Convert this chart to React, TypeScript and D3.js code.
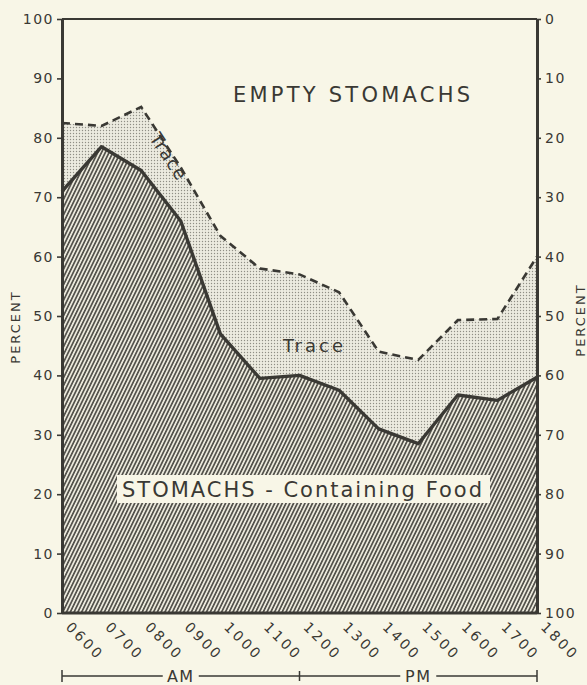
import * as d3 from 'd3'
import { useRef, useEffect } from 'react'

const hours = ['0600', '0700', '0800', '0900', '1000', '1100', '1200', '1300', '1400', '1500', '1600', '1700', '1800']
// percent of stomachs containing food (solid line)
const foodPct = [71, 78.5, 74.5, 66, 47, 39.5, 40, 37.5, 31, 28.5, 36.7, 35.8, 39.7]
// upper edge of the "trace" band (dashed line)
const tracePct = [82.5, 82, 85.2, 75, 63.5, 58, 57, 54, 44, 42.6, 49.3, 49.5, 60]
const leftTicks = [0, 10, 20, 30, 40, 50, 60, 70, 80, 90, 100]

const W = 587
const H = 685
const ink = '#3a3934'
const paper = '#f8f6e7'
const font = '"DejaVu Sans", sans-serif'

export default function App() {
    const svgRef = useRef()

    useEffect(() => {
        document.body.style.margin = '0'
        document.body.style.background = paper

        const svg = d3.select(svgRef.current)
        svg.selectAll('*').remove()

        const margin = { top: 19, right: 50, bottom: 72, left: 62 }
        const x = d3.scalePoint().domain(hours).range([margin.left, W - margin.right])
        const y = d3.scaleLinear().domain([0, 100]).range([H - margin.bottom, margin.top])
        const yR = d3.scaleLinear().domain([100, 0]).range([H - margin.bottom, margin.top])

        const data = hours.map((h, i) => ({ h, food: foodPct[i], trace: tracePct[i] }))

        svg.append('rect').attr('width', W).attr('height', H).attr('fill', paper)

        const defs = svg.append('defs')
        const hatch = defs.append('pattern')
            .attr('id', 'hatch')
            .attr('patternUnits', 'userSpaceOnUse')
            .attr('width', 3.4).attr('height', 10)
            .attr('patternTransform', 'rotate(26)')
        hatch.append('rect').attr('width', 3.4).attr('height', 10).attr('fill', '#ebe9dc')
        hatch.append('line')
            .attr('x1', 1.7).attr('x2', 1.7).attr('y1', 0).attr('y2', 10)
            .attr('stroke', ink).attr('stroke-width', 1.45)

        const dots = defs.append('pattern')
            .attr('id', 'dots')
            .attr('patternUnits', 'userSpaceOnUse')
            .attr('width', 3).attr('height', 3)
        dots.append('rect').attr('width', 3).attr('height', 3).attr('fill', '#ecebe0')
        dots.append('circle').attr('cx', 1.5).attr('cy', 1.5).attr('r', 0.7).attr('fill', '#8f8e85')

        const foodArea = d3.area()
            .x(d => x(d.h))
            .y0(y(0))
            .y1(d => y(d.food))
        const traceArea = d3.area()
            .x(d => x(d.h))
            .y0(d => y(d.food))
            .y1(d => y(d.trace))

        svg.append('path').datum(data).attr('d', traceArea).attr('fill', 'url(#dots)')
        svg.append('path').datum(data).attr('d', foodArea).attr('fill', 'url(#hatch)')

        svg.append('path').datum(data)
            .attr('d', d3.line().x(d => x(d.h)).y(d => y(d.trace)))
            .attr('fill', 'none').attr('stroke', ink)
            .attr('stroke-width', 2.6).attr('stroke-dasharray', '8,5')
        svg.append('path').datum(data)
            .attr('d', d3.line().x(d => x(d.h)).y(d => y(d.food)))
            .attr('fill', 'none').attr('stroke', ink)
            .attr('stroke-width', 3.4).attr('stroke-linejoin', 'round')

        // frame
        svg.append('line')
            .attr('x1', x.range()[0]).attr('x2', x.range()[1])
            .attr('y1', y(100)).attr('y2', y(100))
            .attr('stroke', ink).attr('stroke-width', 2.2)
        svg.append('line')
            .attr('x1', x.range()[0]).attr('x2', x.range()[1])
            .attr('y1', y(0)).attr('y2', y(0))
            .attr('stroke', ink).attr('stroke-width', 3)

        const styleAxis = g => {
            g.select('.domain').attr('stroke', ink).attr('stroke-width', 3)
            g.selectAll('.tick line').attr('stroke', ink).attr('stroke-width', 1.6)
            g.selectAll('text')
                .attr('fill', ink)
                .style('font-family', font)
                .style('font-size', '14px')
                .style('letter-spacing', '1.5px')
        }

        svg.append('g')
            .attr('transform', `translate(${margin.left},0)`)
            .call(d3.axisLeft(y).tickValues(leftTicks).tickSize(5).tickSizeOuter(0).tickPadding(3))
            .call(styleAxis)

        svg.append('g')
            .attr('transform', `translate(${W - margin.right},0)`)
            .call(d3.axisRight(yR).tickValues(leftTicks).tickSize(4).tickSizeOuter(0).tickPadding(4))
            .call(styleAxis)

        // rotated hour labels
        const bottom = svg.append('g')
        bottom.selectAll('text')
            .data(hours)
            .enter()
            .append('text')
            .attr('transform', d => `translate(${x(d) + 3},${y(0) + 15}) rotate(45)`)
            .attr('fill', ink)
            .style('font-family', font)
            .style('font-size', '14px')
            .style('letter-spacing', '2.8px')
            .text(d => d)

        // AM / PM bracket
        const by = 676
        const x0 = x('0600'), xm = x('1200'), x1 = x('1800')
        const bracket = svg.append('g').attr('stroke', ink).attr('stroke-width', 1.5)
        const segs = [
            [x0, (x0 + xm) / 2 - 18],
            [(x0 + xm) / 2 + 18, xm],
            [xm, (xm + x1) / 2 - 18],
            [(xm + x1) / 2 + 18, x1],
        ]
        segs.forEach(s => bracket.append('line').attr('x1', s[0]).attr('x2', s[1]).attr('y1', by).attr('y2', by))
        ;[[x0, 6], [xm, 5], [x1, 6]].forEach(([xx, hh]) =>
            bracket.append('line').attr('x1', xx).attr('x2', xx).attr('y1', by - hh).attr('y2', by + hh))
        ;[['AM', (x0 + xm) / 2], ['PM', (xm + x1) / 2]].forEach(([t, cx]) =>
            svg.append('text')
                .attr('x', cx).attr('y', by + 6)
                .attr('text-anchor', 'middle')
                .attr('fill', ink)
                .style('font-family', font)
                .style('font-size', '16px')
                .style('letter-spacing', '1.5px')
                .text(t))

        // axis titles
        const addTitle = (tx, ty) => svg.append('text')
            .attr('transform', `translate(${tx},${ty}) rotate(-90)`)
            .attr('text-anchor', 'middle')
            .attr('fill', ink)
            .style('font-family', font)
            .style('font-size', '13px')
            .style('letter-spacing', '2px')
            .text('PERCENT')
        addTitle(20, 327)
        addTitle(585, 320)

        // in-chart labels
        svg.append('text')
            .attr('x', 233).attr('y', 102)
            .attr('textLength', 237).attr('lengthAdjust', 'spacing')
            .attr('fill', ink)
            .style('font-family', font)
            .style('font-size', '21px')
            .text('EMPTY STOMACHS')

        svg.append('text')
            .attr('x', 283).attr('y', 352)
            .attr('textLength', 60).attr('lengthAdjust', 'spacing')
            .attr('fill', ink)
            .style('font-family', font)
            .style('font-size', '18px')
            .text('Trace')

        svg.append('text')
            .attr('transform', 'translate(149,138) rotate(57)')
            .attr('fill', ink)
            .style('font-family', font)
            .style('font-size', '18px')
            .style('letter-spacing', '1px')
            .text('Trace')

        svg.append('rect')
            .attr('x', 117).attr('y', 475).attr('width', 373).attr('height', 28)
            .attr('fill', paper)
        svg.append('text')
            .attr('x', 122).attr('y', 497)
            .attr('textLength', 360).attr('lengthAdjust', 'spacing')
            .attr('fill', ink)
            .style('font-family', font)
            .style('font-size', '21px')
            .text('STOMACHS - Containing Food')
    }, [])

    return (
        <svg ref={svgRef} width={W} height={H} style={{ display: 'block' }}></svg>
    )
}
